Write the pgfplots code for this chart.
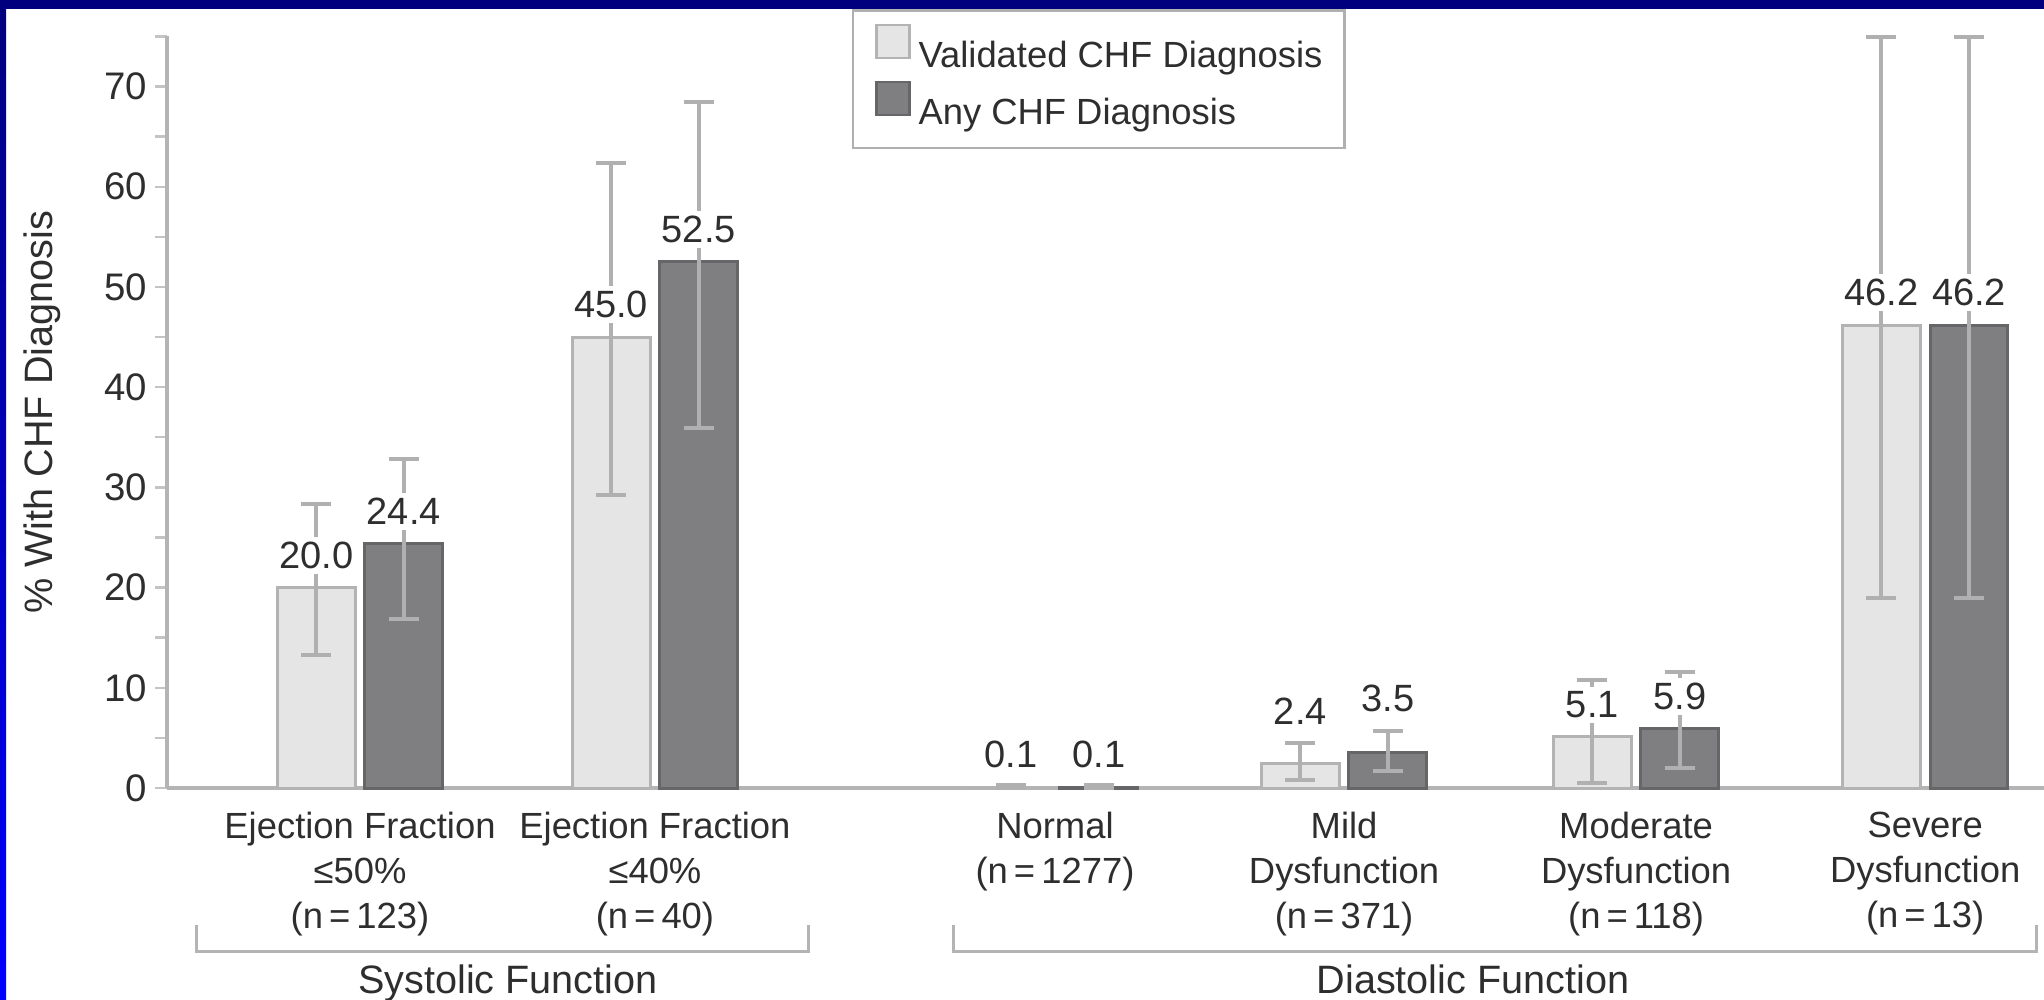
\documentclass[border=0pt]{standalone}
\usepackage{fontspec}
\setmainfont{Liberation Sans}
\usepackage{pgfplots}
\usepackage{pgfplotstable}
\pgfplotsset{compat=1.18}
\definecolor{navyband}{HTML}{00007F}
\definecolor{blueband}{HTML}{0000FF}
\definecolor{lightfill}{HTML}{E5E5E5}
\definecolor{lightdraw}{HTML}{B3B3B3}
\definecolor{darkfill}{HTML}{7F7F82}
\definecolor{darkdraw}{HTML}{666668}
\definecolor{errgray}{HTML}{B0B0B0}
\definecolor{axgray}{HTML}{B4B4B4}
\definecolor{tickgray}{HTML}{C4C4C4}
\definecolor{txt}{HTML}{2E2E2E}

% x = bar centre (groups at 0, 1.01, 2.38, 3.37, 4.37, 5.36), y = value,
% lo/hi = error bar ends, ly = where the value label sits, lab = printed value
\pgfplotstableread{
x     y     lo    hi    ly    lab
-0.15 20.0  13.3  28.3  20.0  20.0
0.86  45.0  29.2  62.4  45.0  45.0
2.23  0.1   0.0   0.35  0.1   0.1
3.22  2.4   0.8   4.5   4.5   2.4
4.22  5.1   0.5   10.8  5.1   5.1
5.21  46.2  19.0  74.9  46.2  46.2
}\validated
\pgfplotstableread{
x     y     lo    hi    ly    lab
0.15  24.4  16.9  32.8  24.4  24.4
1.16  52.5  35.9  68.5  52.5  52.5
2.53  0.1   0.0   0.35  0.1   0.1
3.52  3.5   1.7   5.7   5.7   3.5
4.52  5.9   2.0   11.6  5.9   5.9
5.51  46.2  19.0  74.9  46.2  46.2
}\anychf

\begin{document}
\begin{tikzpicture}
\useasboundingbox (0,0) rectangle (511pt,249.75pt);
\fill[white] (0,0) rectangle (511pt,249.75pt);
\fill[navyband] (0,247.5pt) rectangle (511pt,249.75pt);
\shade[top color=navyband, bottom color=blueband] (0,0) rectangle (1.5pt,247.5pt);
\begin{axis}[
  at={(41.75pt,52.75pt)}, anchor=south west,
  scale only axis, width=469.25pt, height=187.9pt,
  xmin=-0.661, xmax=5.767, ymin=0, ymax=75,
  axis x line*=bottom, axis y line*=left,
  axis line style={draw=axgray, line width=1pt},
  clip=false,
  ytick={0,10,...,70}, minor ytick={5,15,...,75},
  tick align=outside, major tick length=3pt, minor tick length=3pt,
  every tick/.style={draw=tickgray, line width=0.6pt},
  xtick style={draw=none},
  xtick={0,1.01,2.38,3.37,4.37,5.36},
  xticklabels={{Ejection Fraction\\≤50\%\\(n\,=\,123)},
               {Ejection Fraction\\≤40\%\\(n\,=\,40)},
               {Normal\\(n\,=\,1277)},
               {Mild\\Dysfunction\\(n\,=\,371)},
               {Moderate\\Dysfunction\\(n\,=\,118)},
               {Severe\\Dysfunction\\(n\,=\,13)}},
  xticklabel style={inner sep=0pt, anchor=north, yshift=-2.9pt, align=center,
    font=\fontsize{9.1}{11.2}\selectfont, text=txt},
  yticklabel style={inner sep=0pt, anchor=east, xshift=-1.75pt,
    font=\fontsize{9.6}{11}\selectfont, text=txt},
  /pgf/number format/assume math mode=true,
  ylabel={\% With CHF Diagnosis},
  ylabel style={at={(axis description cs:-0.0665,0.5)}, anchor=center,
    font=\fontsize{9.9}{12}\selectfont, text=txt},
  legend style={at={(axis description cs:0.3649,1.0359)}, anchor=north west,
    draw=errgray, line width=0.6pt, fill=white,
    inner xsep=5.5pt, inner ysep=3.3pt, row sep=0.7pt,
    font=\fontsize{9.1}{11}\selectfont, text=txt,
    nodes={inner sep=0pt, text height=9.1pt, text depth=2.5pt},
    /tikz/every odd column/.append style={column sep=2pt}},
  legend cell align=left,
]
\addplot[ybar, bar width=0.267, bar shift=0pt, fill=lightfill, draw=lightdraw,
  line width=0.75pt,
  legend image code/.code={\draw[fill=lightfill, draw=lightdraw, line width=0.6pt]
     (0pt,-0.85pt) rectangle (8.25pt,7.4pt);},
  error bars/.cd, y dir=both, y explicit,
  error bar style={draw=errgray, line width=1pt},
  error mark options={rotate=90, draw=errgray, line width=1pt, mark size=3.75pt}]
  table[x=x, y=y, y error plus expr=\thisrow{hi}-\thisrow{y},
        y error minus expr=\thisrow{y}-\thisrow{lo}] {\validated};
\addlegendentry{Validated CHF Diagnosis}
\addplot[ybar, bar width=0.267, bar shift=0pt, fill=darkfill, draw=darkdraw,
  line width=0.75pt,
  legend image code/.code={\draw[fill=darkfill, draw=darkdraw, line width=0.6pt]
     (0pt,-0.85pt) rectangle (8.25pt,7.4pt);},
  error bars/.cd, y dir=both, y explicit,
  error bar style={draw=errgray, line width=1pt},
  error mark options={rotate=90, draw=errgray, line width=1pt, mark size=3.75pt}]
  table[x=x, y=y, y error plus expr=\thisrow{hi}-\thisrow{y},
        y error minus expr=\thisrow{y}-\thisrow{lo}] {\anychf};
\addlegendentry{Any CHF Diagnosis}
\pgfplotsset{vlabels/.style={forget plot, ybar, bar width=0.01, bar shift=0pt,
  draw=none, fill=none, point meta=explicit symbolic,
  nodes near coords, nodes near coords align=vertical,
  every node near coord/.append style={font=\fontsize{9.5}{11}\selectfont,
    text=txt, fill=white, inner xsep=0.8pt, inner ysep=1.25pt, yshift=3.25pt}}}
\addplot[vlabels] table[x=x, y=ly, meta=lab] {\validated};
\addplot[vlabels] table[x=x, y=ly, meta=lab] {\anychf};
\end{axis}
\draw[axgray, line width=0.75pt] (49pt,18.5pt) -- (49pt,12pt) -- (202pt,12pt) -- (202pt,18.5pt);
\draw[axgray, line width=0.75pt] (238.25pt,18.5pt) -- (238.25pt,12pt) -- (509pt,12pt) -- (509pt,18.5pt);
\node[anchor=base, inner sep=0pt, text=txt, font=\fontsize{9.9}{12}\selectfont] at (127pt,1.5pt) {Systolic Function};
\node[anchor=base, inner sep=0pt, text=txt, font=\fontsize{9.9}{12}\selectfont] at (368.25pt,1.5pt) {Diastolic Function};
\end{tikzpicture}
\end{document}
